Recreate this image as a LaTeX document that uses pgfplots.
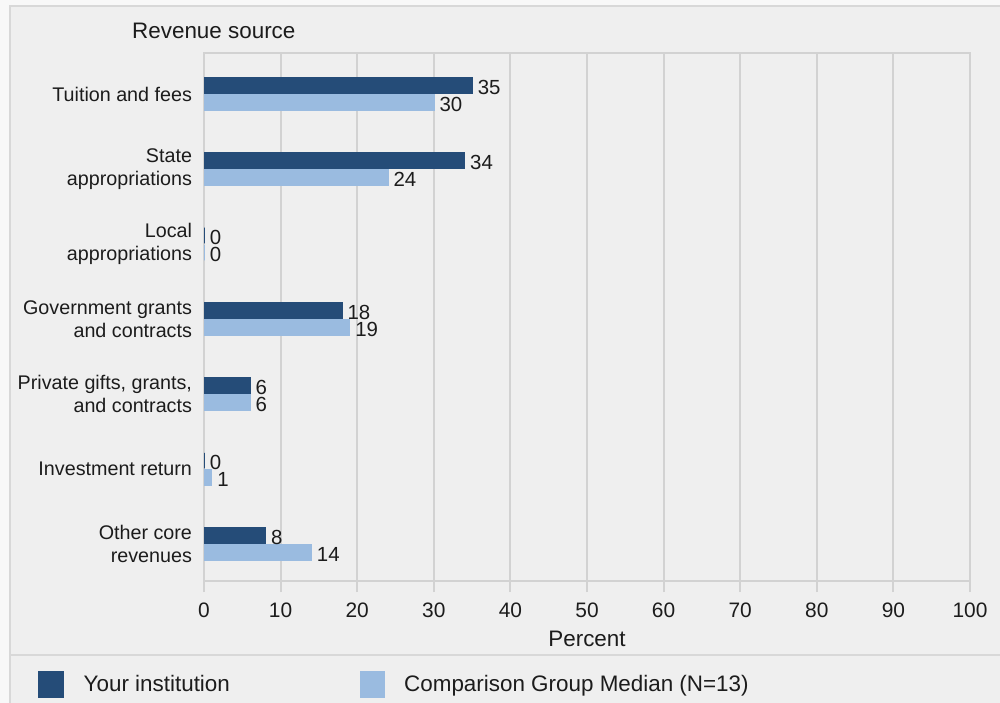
\documentclass[border=0pt]{standalone}
\usepackage{pgfplots}
\pgfplotsset{compat=1.18}
\usepackage{fontspec}
\setmainfont{Liberation Sans}

\definecolor{instdark}{HTML}{254C78}
\definecolor{complight}{HTML}{9ABBE0}
\definecolor{gridgray}{HTML}{D2D2D2}
\definecolor{panelbg}{HTML}{EFEFEF}
\definecolor{pagebg}{HTML}{F8F8F8}
\definecolor{framegray}{HTML}{D8D8D8}
\definecolor{txt}{HTML}{1C1C1C}

\begin{document}
\begin{tikzpicture}[x=1bp,y=1bp]
\useasboundingbox (0,0) rectangle (1000,703);
% panel and frame
\fill[pagebg] (0,0) rectangle (1000,703);
\fill[panelbg] (10,-5) rectangle (1010,697);
\draw[framegray, line width=2bp] (10,-5) -- (10,697) -- (1010,697);
\draw[framegray, line width=2bp] (10,48) -- (1010,48);
\node[anchor=base west, font=\fontsize{22.5}{26}\selectfont, text=txt, inner sep=0pt] at (132,664) {Revenue source};

\begin{axis}[
  at={(204bp,122bp)}, anchor=south west,
  width=766bp, height=528bp, scale only axis,
  /pgf/number format/assume math mode=true,
  xbar,
  bar width=0.207,
  xmin=0, xmax=100, xtick={0,10,...,100},
  ymin=-0.547, ymax=6.493, y dir=reverse,
  ytick={0,...,6},
  yticklabels={Tuition and fees, {State\\appropriations}, {Local\\appropriations},
    {Government grants\\and contracts}, {Private gifts, grants,\\and contracts},
    Investment return, {Other core\\revenues}},
  yticklabel style={align=right, font=\fontsize{19.8}{23}\selectfont, text=txt, xshift=2.5bp},
  xticklabel style={font=\fontsize{21}{24}\selectfont, text=txt, yshift=-7bp},
  xlabel={Percent},
  xlabel style={font=\fontsize{22.5}{26}\selectfont, text=txt, yshift=-7bp},
  xmajorgrids,
  major grid style={gridgray, line width=2bp},
  axis line style={gridgray, line width=2bp},
  tick style={gridgray, line width=2bp},
  ytick style={draw=none},
  major tick length=11bp,
  tick align=outside,
  tick pos=left,
  point meta=x,
  nodes near coords={\pgfmathprintnumber[fixed,precision=0]{\pgfplotspointmeta}},
  every node near coord/.append style={anchor=west, font=\fontsize{20.5}{23}\selectfont,
    text=txt, inner sep=0pt, text height=14.5bp, text depth=0pt, xshift=5bp, yshift=-1.5bp},
  legend columns=2,
  legend style={at={(-0.2167,-0.196)}, anchor=west, draw=none, fill=none,
    inner sep=0pt, column sep=0pt, font=\fontsize{22.5}{26}\selectfont, text=txt,
    nodes={inner sep=0pt}},
  legend image code/.code={\fill[#1] (0bp,-12.5bp) rectangle (24bp,12.5bp);},
]
\addplot[fill=instdark, draw=instdark, line width=1.5bp, bar shift=-0.1135]
  coordinates {(35,0) (34,1) (0,2) (18,3) (6,4) (0,5) (8,6)};
\addlegendentry{\makebox[296bp][l]{\hspace{20bp}Your institution}}
\addplot[fill=complight, draw=complight, line width=1.5bp, bar shift=0.1135]
  coordinates {(30,0) (24,1) (0,2) (19,3) (6,4) (1,5) (14,6)};
\addlegendentry{\hspace{19bp}Comparison Group Median (N=13)}
\end{axis}
\end{tikzpicture}
\end{document}
